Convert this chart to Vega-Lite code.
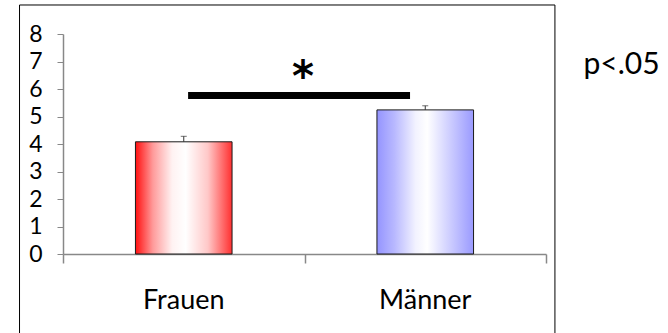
{
  "$schema": "https://vega.github.io/schema/vega-lite/v6.json",
  "autosize": "none",
  "width": 483,
  "height": 220,
  "padding": {"left": 63, "top": 34, "right": 122, "bottom": 79},
  "background": "white",
  "config": {
    "view": {"stroke": null},
    "font": "Lato",
    "axis": {"labelFont": "Lato", "labelColor": "#000000", "grid": false, "title": null},
    "axisY": {"values": [0,1,2,3,4,5,6,7,8], "labelOverlap": false, "domainColor": "#888888", "domainWidth": 1.5, "tickColor": "#888888", "tickSize": 6, "labelFontSize": 23, "labelPadding": 15}
  },
  "resolve": {"scale": {"x": "independent"}, "axis": {"x": "independent"}},
  "layer": [
    {
      "data": {"values": [
        {"Geschlecht": "Frauen", "Mittelwert": 4.08, "Fehler_oben": 4.28},
        {"Geschlecht": "Männer", "Mittelwert": 5.24, "Fehler_oben": 5.39}
      ]},
      "encoding": {
        "x": {"field": "Geschlecht", "type": "nominal", "sort": null,
          "scale": {"domain": ["Frauen", "Männer"], "paddingInner": 0.6, "paddingOuter": 0.3},
          "axis": {"orient": "bottom", "ticks": false, "domainColor": "#888888", "domainWidth": 1.5, "labelAngle": 0, "labelFontSize": 27, "labelPadding": 33}},
        "y": {"field": "Mittelwert", "type": "quantitative",
          "scale": {"domain": [0, 8], "nice": false},
          "axis": {"values": [0,1,2,3,4,5,6,7,8], "labelOverlap": false, "domainColor": "#888888", "domainWidth": 1.5, "tickColor": "#888888", "tickSize": 6, "labelFontSize": 23, "labelPadding": 15}}
      },
      "layer": [
        {
          "transform": [{"filter": "datum.Geschlecht === 'Frauen'"}],
          "mark": {"type": "bar", "stroke": "#1a1a1a", "strokeWidth": 1,
            "fill": {"gradient": "linear", "x1": 0, "x2": 1, "y1": 0, "y2": 0, "stops": [
              {"offset": 0, "color": "#ff1010"},
              {"offset": 0.18, "color": "#ff9a9a"},
              {"offset": 0.38, "color": "#fff2f2"},
              {"offset": 0.52, "color": "#ffffff"},
              {"offset": 0.75, "color": "#ffc8c8"},
              {"offset": 1, "color": "#ff3030"}
            ]}}
        },
        {
          "transform": [{"filter": "datum.Geschlecht === 'Männer'"}],
          "mark": {"type": "bar", "stroke": "#1a1a1a", "strokeWidth": 1,
            "fill": {"gradient": "linear", "x1": 0, "x2": 1, "y1": 0, "y2": 0, "stops": [
              {"offset": 0, "color": "#9494ff"},
              {"offset": 0.18, "color": "#b8b8ff"},
              {"offset": 0.4, "color": "#f2f2ff"},
              {"offset": 0.52, "color": "#ffffff"},
              {"offset": 0.8, "color": "#c4c4ff"},
              {"offset": 1, "color": "#9a9aff"}
            ]}}
        },
        {
          "mark": {"type": "rule", "color": "#333333", "strokeWidth": 1},
          "encoding": {"y2": {"field": "Fehler_oben"}}
        },
        {
          "mark": {"type": "tick", "color": "#333333", "size": 6, "thickness": 1, "orient": "horizontal"},
          "encoding": {"y": {"field": "Fehler_oben", "type": "quantitative"}}
        }
      ]
    },
    {
      "encoding": {
        "x": {"field": "x", "type": "quantitative",
          "scale": {"domain": [0.5, 2.5], "nice": false, "zero": false},
          "axis": {"orient": "bottom", "values": [0.5, 1.5, 2.5], "labels": false, "domain": false, "tickColor": "#888888", "tickWidth": 1.5, "tickSize": 9}},
        "y": {"field": "y", "type": "quantitative",
          "axis": {"values": [0,1,2,3,4,5,6,7,8], "labelOverlap": false, "domainColor": "#888888", "domainWidth": 1.5, "tickColor": "#888888", "tickSize": 6, "labelFontSize": 23, "labelPadding": 15}}
      },
      "layer": [
        {
          "data": {"values": [{"x": 1.018, "x_bis": 1.937, "y": 5.76}]},
          "mark": {"type": "rule", "color": "#000000", "strokeWidth": 7, "strokeCap": "butt"},
          "encoding": {"x2": {"field": "x_bis"}}
        },
        {
          "data": {"values": [{"x": 1.494, "y": 5.92, "label": "*"}]},
          "mark": {"type": "text", "font": "DejaVu Sans", "fontWeight": "bold", "fontSize": 42, "align": "center", "baseline": "alphabetic", "color": "#000000"},
          "encoding": {"text": {"field": "label"}}
        },
        {
          "data": {"values": [{"x": 2.813, "y": 6.87, "label": "p<.05"}]},
          "mark": {"type": "text", "font": "Lato", "fontSize": 30, "align": "center", "baseline": "middle", "color": "#000000"},
          "encoding": {"text": {"field": "label"}}
        },
        {
          "data": {"values": [{"x": 0.32, "x_bis": 2.537, "y": 9.055, "y_bis": -3}]},
          "mark": {"type": "rect", "fill": null, "fillOpacity": 0, "stroke": "#000000", "strokeWidth": 1},
          "encoding": {"x2": {"field": "x_bis"}, "y2": {"field": "y_bis"}}
        }
      ]
    }
  ]
}
